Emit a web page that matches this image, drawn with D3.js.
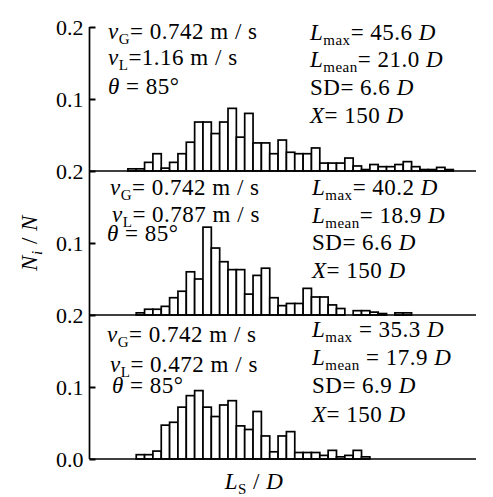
<!DOCTYPE html>
<html><head><meta charset="utf-8">
<script src="https://cdn.jsdelivr.net/npm/d3@7"></script>
<style>
body{margin:0;background:#fff}
svg{display:block}
</style>
</head><body>
<svg id="chart" width="493" height="497"></svg>
<script>
// ---------- data ----------
const lsBins1 = [5,6,7,8,9,10,11,12,13,14,15,16,17,18,19,20,21,22,23,24,25,26,27,28,29,30,31,32,33,34,35,36,37,38,39,40,41,42,43];
const freq1 = [0.003,0.003,0.012,0.024,0.004,0.012,0.024,0.040,0.068,0.068,
               0.052,0.068,0.087,0.047,0.080,0.039,0.039,0.024,0.043,0.026,
               0.024,0.024,0.032,0.011,0.011,0.011,0.018,0.007,0.002,0.009,
               0.006,0.006,0.009,0.013,0.006,0.002,0.002,0.005,0.002];
const lsBins2 = [6,7,8,9,10,11,12,13,14,15,16,17,18,19,20,21,22,23,24,25,26,27,28,29,30,31,32,33,34,35,36,37,38];
const freq2 = [0.003,0.008,0.008,0.012,0.024,0.033,0.060,0.050,0.122,0.093,
               0.074,0.063,0.063,0.029,0.055,0.065,0.024,0.013,0.016,0.016,
               0.037,0.025,0.025,0.014,0.009,0,0.006,0.006,0.004,0.002,
               0,0.003,0.003];
const lsBins3 = [6,7,8,9,10,11,12,13,14,15,16,17,18,19,20,21,22,23,24,25,26,27,28,29,30,31,32,33];
const freq3 = [0.006,0.006,0.011,0.047,0.051,0.072,0.088,0.095,0.072,0.059,
               0.075,0.081,0.046,0.041,0.066,0.032,0.010,0.032,0.038,0.009,
               0.009,0.009,0.005,0.012,0.003,0.005,0.012,0.003];
const yTicksTop = [0.1, 0.2];
const yTicksBottom = [0.0, 0.1, 0.2];
const vGValues = ["0.742", "0.742", "0.742"];
const vLValues = ["1.16", "0.787", "0.472"];
const thetaValues = ["85", "85", "85"];
const LmaxValues = ["45.6", "40.2", "35.3"];
const LmeanValues = ["21.0", "18.9", "17.9"];
const SDValues = ["6.6", "6.6", "6.9"];
const XValues = ["150", "150", "150"];

// ---------- layout ----------
const FONT = "Liberation Serif";
const svg = d3.select("#chart");
const left = 89.5, right = 476, panelH = 144;
const bases = [171, 315, 459];
const FS = 23, SUB = 15, LS = 0.5;

const x = d3.scaleLinear().domain([0.4, 46.72]).range([left, right]);

const panels = [
  {bins: lsBins1, freq: freq1, eq: "= ", eq2: "=",
   leftX: [108,108,108], leftY: [39,65,94], rightX: 310, rightY: [40,67,95,123]},
  {bins: lsBins2, freq: freq2, eq: "= ", eq2: "=",
   leftX: [110,112,107], leftY: [195,222,241], rightX: 312, rightY: [195,223,250,278]},
  {bins: lsBins3, freq: freq3, eq: "= ", eq2: " =",
   leftX: [107,110,112], leftY: [342,372,393], rightX: 312, rightY: [337,365,393,422]}
];

function rich(sel, px, py, parts, anchor) {
  const t = sel.append("text").attr("x", px).attr("y", py)
    .attr("font-family", FONT).attr("fill", "#000")
    .attr("font-size", FS).attr("letter-spacing", LS)
    .attr("text-anchor", anchor || "start");
  let shift = 0;
  parts.forEach(p => {
    const ts = t.append("tspan").text(p.t);
    if (p.sub) {
      ts.attr("font-size", SUB).attr("dy", 5 - shift); shift = 5;
    } else if (shift) {
      ts.attr("dy", -shift); shift = 0;
    }
    if (p.i) ts.attr("font-style", "italic");
  });
  return t;
}

panels.forEach((p, i) => {
  const base = bases[i];
  const y = d3.scaleLinear().domain([0, 0.2]).range([base, base - panelH]);
  const g = svg.append("g");

  // bars
  g.selectAll("rect").data(p.bins.map((b, k) => ({b, v: p.freq[k]})).filter(d => d.v > 0))
    .join("rect")
    .attr("x", d => x(d.b)).attr("width", d => x(d.b + 1) - x(d.b))
    .attr("y", d => y(d.v)).attr("height", d => base - y(d.v))
    .attr("fill", "#fff").attr("stroke", "#000").attr("stroke-width", 1.7);

  // baseline
  g.append("line").attr("x1", left).attr("x2", right).attr("y1", base).attr("y2", base)
    .attr("stroke", "#000").attr("stroke-width", 1.7);

  // y axis ticks
  const ax = d3.axisLeft(y)
    .tickValues(i === 2 ? yTicksBottom : yTicksTop)
    .tickSize(-6).tickPadding(6).tickFormat(d3.format(".1f"));
  const ag = svg.append("g").attr("transform", `translate(${left},0)`).call(ax)
    .attr("font-family", FONT).attr("font-size", 22);
  ag.select(".domain").remove();
  ag.selectAll("line").attr("stroke", "#000").attr("stroke-width", 2);
  ag.selectAll("text").attr("fill", "#000");

  // left annotations
  rich(g, p.leftX[0], p.leftY[0], [{t:"v",i:true},{t:"G",sub:true},{t:p.eq + vGValues[i] + " m / s"}]);
  rich(g, p.leftX[1], p.leftY[1], [{t:"v",i:true},{t:"L",sub:true},{t:(i===0?"=":p.eq) + vLValues[i] + " m / s"}]);
  rich(g, p.leftX[2], p.leftY[2], [{t:"θ",i:true},{t:" = " + thetaValues[i] + "°"}]);

  // right annotations
  rich(g, p.rightX, p.rightY[0], [{t:"L",i:true},{t:"max",sub:true},{t:p.eq2 + " " + LmaxValues[i] + " "},{t:"D",i:true}]);
  rich(g, p.rightX, p.rightY[1], [{t:"L",i:true},{t:"mean",sub:true},{t:p.eq2 + " " + LmeanValues[i] + " "},{t:"D",i:true}]);
  rich(g, p.rightX, p.rightY[2], [{t:"SD= " + SDValues[i] + " "},{t:"D",i:true}]);
  rich(g, p.rightX, p.rightY[3], [{t:"X",i:true},{t:"= " + XValues[i] + " "},{t:"D",i:true}]);
});

// vertical axis line
svg.append("line").attr("x1", left).attr("x2", left)
  .attr("y1", bases[0] - panelH).attr("y2", bases[2])
  .attr("stroke", "#000").attr("stroke-width", 1.7);

// axis titles
const yt = svg.append("g").attr("transform", "translate(37,243) rotate(-90)");
rich(yt, 0, 0, [{t:"N",i:true},{t:"i",sub:true,i:true},{t:" / "},{t:"N",i:true}], "middle");
rich(svg, 254, 489, [{t:"L",i:true},{t:"S",sub:true},{t:" / "},{t:"D",i:true}], "middle");
</script>
</body></html>
